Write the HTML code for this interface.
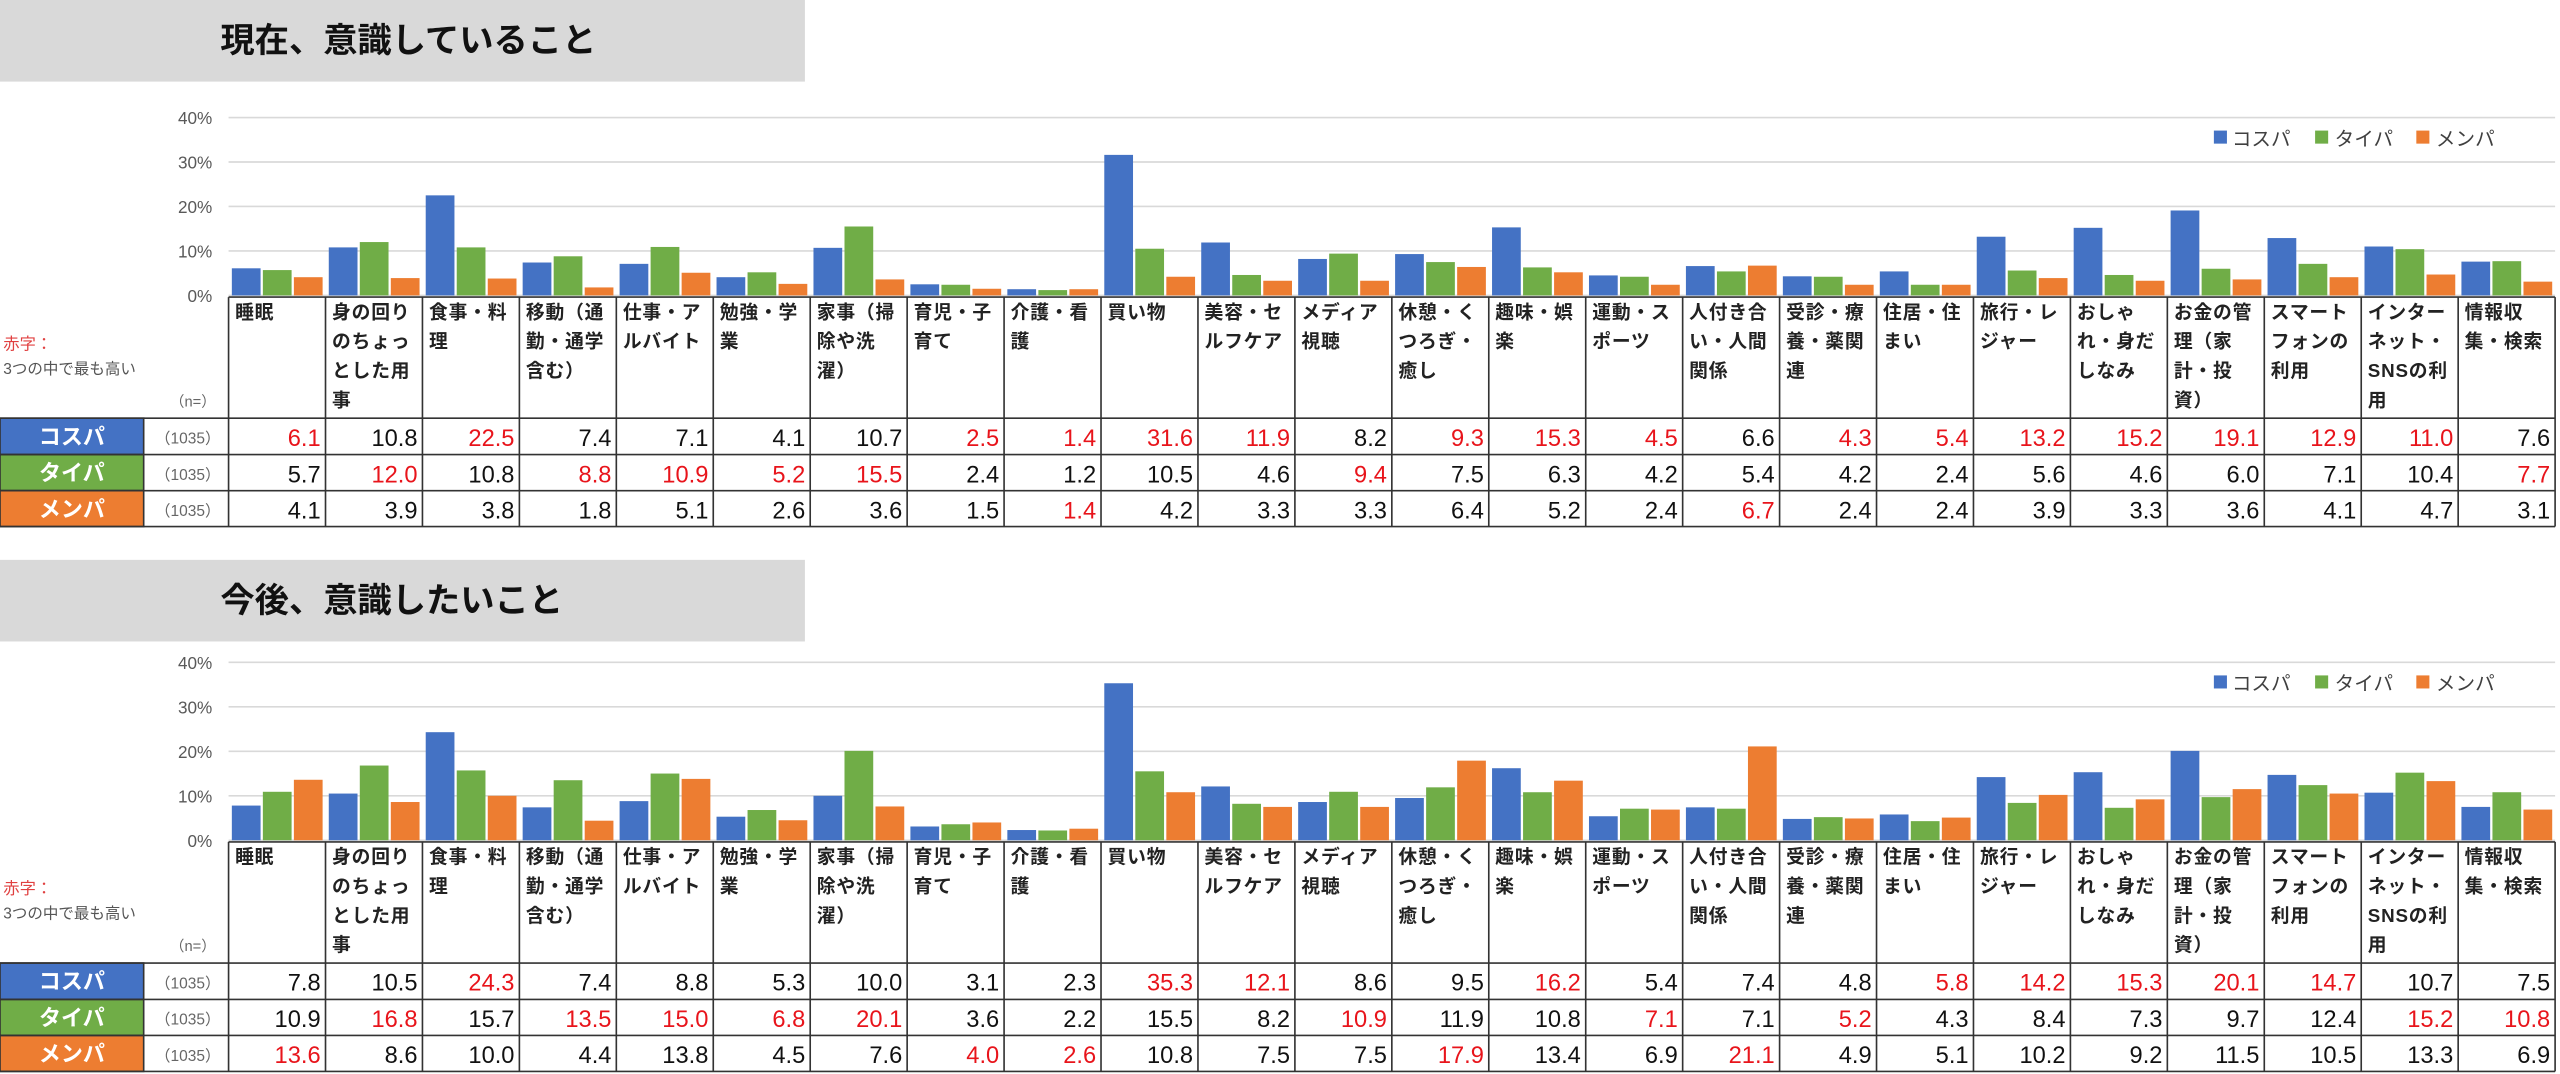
<!DOCTYPE html>
<html><head><meta charset="utf-8">
<style>
html,body{margin:0;padding:0;background:#fff;}
svg{display:block;}
text{font-family:"Liberation Sans","Noto Sans CJK JP",sans-serif;}
</style></head>
<body>
<svg id="s" width="2560" height="1074" viewBox="0 0 1568 658" preserveAspectRatio="none" xmlns="http://www.w3.org/2000/svg"></svg>
<script>
const cats=[["睡眠"],["身の回り","のちょっ","とした用","事"],["食事・料","理"],["移動（通","勤・通学","含む）"],["仕事・ア","ルバイト"],["勉強・学","業"],["家事（掃","除や洗","濯）"],["育児・子","育て"],["介護・看","護"],["買い物"],["美容・セ","ルフケア"],["メディア","視聴"],["休憩・く","つろぎ・","癒し"],["趣味・娯","楽"],["運動・ス","ポーツ"],["人付き合","い・人間","関係"],["受診・療","養・薬関","連"],["住居・住","まい"],["旅行・レ","ジャー"],["おしゃ","れ・身だ","しなみ"],["お金の管","理（家","計・投","資）"],["スマート","フォンの","利用"],["インター","ネット・","SNSの利","用"],["情報収","集・検索"]];
const P=[
{title:"現在、意識していること",gy:0,d:[
[6.1,10.8,22.5,7.4,7.1,4.1,10.7,2.5,1.4,31.6,11.9,8.2,9.3,15.3,4.5,6.6,4.3,5.4,13.2,15.2,19.1,12.9,11.0,7.6],
[5.7,12.0,10.8,8.8,10.9,5.2,15.5,2.4,1.2,10.5,4.6,9.4,7.5,6.3,4.2,5.4,4.2,2.4,5.6,4.6,6.0,7.1,10.4,7.7],
[4.1,3.9,3.8,1.8,5.1,2.6,3.6,1.5,1.4,4.2,3.3,3.3,6.4,5.2,2.4,6.7,2.4,2.4,3.9,3.3,3.6,4.1,4.7,3.1]]},
{title:"今後、意識したいこと",gy:343,d:[
[7.8,10.5,24.3,7.4,8.8,5.3,10.0,3.1,2.3,35.3,12.1,8.6,9.5,16.2,5.4,7.4,4.8,5.8,14.2,15.3,20.1,14.7,10.7,7.5],
[10.9,16.8,15.7,13.5,15.0,6.8,20.1,3.6,2.2,15.5,8.2,10.9,11.9,10.8,7.1,7.1,5.2,4.3,8.4,7.3,9.7,12.4,15.2,10.8],
[13.6,8.6,10.0,4.4,13.8,4.5,7.6,4.0,2.6,10.8,7.5,7.5,17.9,13.4,6.9,21.1,4.9,5.1,10.2,9.2,11.5,10.5,13.3,6.9]]}];
const col=["#4472C4","#70AD47","#ED7D31"],names=["コスパ","タイパ","メンパ"];
let h="";
const X0=140,X1=1565,W=(X1-X0)/24;
P.forEach((p,pi)=>{
 const o=pi*333.8;
 h+=`<rect x="0" y="${p.gy}" width="493" height="50" fill="#d9d9d9"/>`;
 h+=`<text x="135" y="${p.gy+32}" font-size="21" font-weight="bold" fill="#111">${p.title}</text>`;
 const base=o+181, k=2.725;
 for(let g=0;g<=4;g++){const y=base-g*27.25;
  h+=`<line x1="${X0}" x2="${X1}" y1="${y}" y2="${y}" stroke="#d9d9d9" stroke-width="1"/>`;
  h+=`<text x="130" y="${y+4}" font-size="10.5" fill="#595959" text-anchor="end">${g*10}%</text>`;}
 [[1356,1367],[1418,1430],[1480,1492]].forEach((a,i)=>{
  h+=`<rect x="${a[0]}" y="${o+80}" width="8" height="8" fill="${col[i]}"/>`;
  h+=`<text x="${a[1]}" y="${o+89}" font-size="12" fill="#404040">${names[i]}</text>`;});
 for(let c=0;c<24;c++){const cx=X0+c*W;
  for(let s=0;s<3;s++){const v=p.d[s][c],bh=v*k;
   h+=`<rect x="${cx+2+s*19}" y="${base-bh}" width="17.6" height="${bh}" fill="${col[s]}"/>`;}}
 const tTop=base+1, rows=[o+256.2,o+278.5,o+300.6,o+322.6];
 h+=`<text x="2" y="${o+214}" font-size="10" fill="#e04040">赤字：</text>`;
 h+=`<text x="2" y="${o+229}" font-size="9.5" fill="#555">3つの中で最も高い</text>`;
 h+=`<text x="104" y="${o+249}" font-size="9" fill="#666">（n=）</text>`;
 for(let c=0;c<24;c++){const cx=X0+c*W;
  cats[c].forEach((t,li)=>{h+=`<text x="${cx+4}" y="${o+195+li*18}" font-size="11.5" font-weight="bold" fill="#222" letter-spacing="0.5">${t}</text>`;});
  const mx=Math.max(p.d[0][c],p.d[1][c],p.d[2][c]);
  for(let s=0;s<3;s++){const v=p.d[s][c];
   h+=`<text x="${cx+W-3}" y="${rows[s]+17}" font-size="14.5" text-anchor="end" fill="${v===mx?'#e8141b':'#111'}">${v.toFixed(1)}</text>`;}}
 for(let s=0;s<3;s++){
  h+=`<rect x="0" y="${rows[s]}" width="88" height="${rows[s+1]-rows[s]}" fill="${col[s]}" stroke="#333" stroke-width="1"/>`;
  h+=`<text x="44" y="${rows[s]+16}" font-size="13.5" font-weight="bold" fill="#fff" text-anchor="middle">${names[s]}</text>`;
  h+=`<text x="115" y="${rows[s]+15.5}" font-size="9.5" fill="#666" text-anchor="middle">（1035）</text>`;}
 rows.forEach(y=>{h+=`<line x1="0" x2="${X1}" y1="${y}" y2="${y}" stroke="#333" stroke-width="1"/>`;});
 h+=`<line x1="${X0}" x2="${X1}" y1="${tTop}" y2="${tTop}" stroke="#333" stroke-width="1"/>`;
 for(let c=0;c<=24;c++){const x=X0+c*W;
  h+=`<line x1="${x}" x2="${x}" y1="${tTop}" y2="${rows[3]}" stroke="#333" stroke-width="1"/>`;}
});
document.getElementById("s").innerHTML=h;
</script>
</body></html>
